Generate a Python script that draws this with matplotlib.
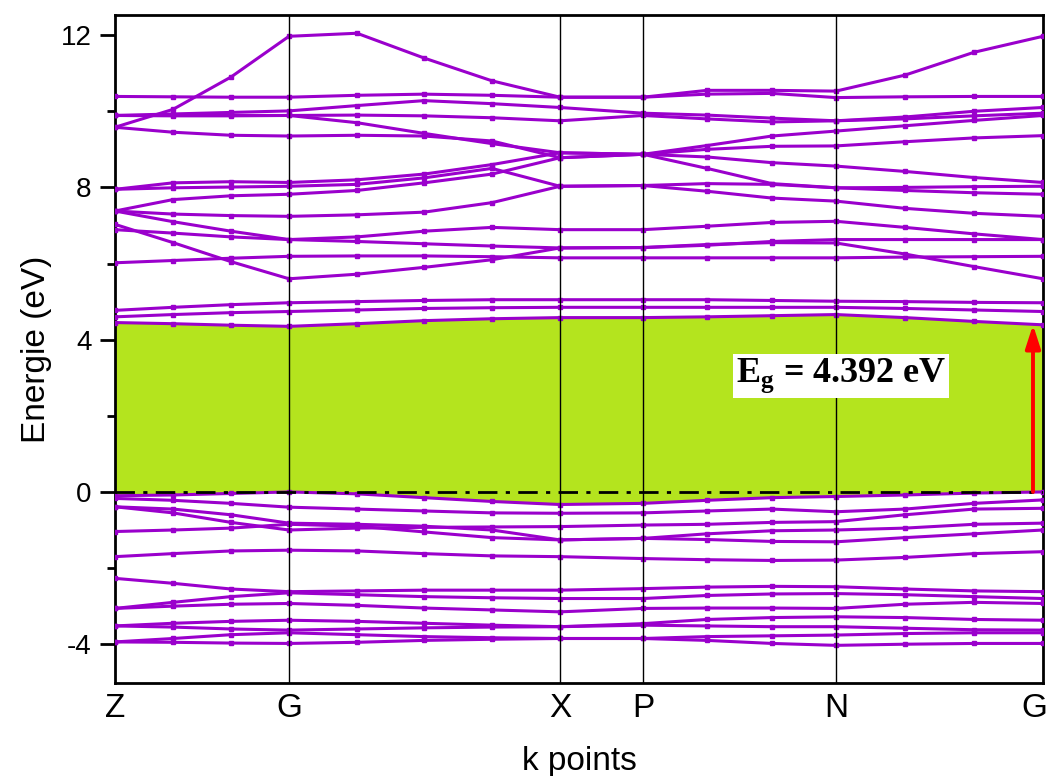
import matplotlib
matplotlib.use("Agg")
import matplotlib.pyplot as plt
import matplotlib.transforms as mtransforms
import numpy as np

# Path through the Brillouin zone (cumulative distance along the path)
k_labels = ["Z", "G", "X", "P", "N", "G"]
k_nodes = [0, 174, 445, 528, 721, 928]
k_samples = [0, 58, 116, 174, 242, 309, 377, 445, 528, 592, 657, 721, 790, 859, 928]

# Conduction bands (eV)
cb_01 = [4.45, 4.42, 4.38, 4.35, 4.42, 4.50, 4.55, 4.58, 4.58, 4.60, 4.63, 4.66, 4.58, 4.48, 4.39]
cb_02 = [4.60, 4.66, 4.71, 4.74, 4.78, 4.82, 4.84, 4.85, 4.85, 4.85, 4.85, 4.85, 4.82, 4.78, 4.74]
cb_03 = [4.77, 4.85, 4.92, 4.97, 5.00, 5.03, 5.05, 5.05, 5.05, 5.05, 5.03, 5.01, 5.00, 4.98, 4.97]
cb_04 = [7.03, 6.55, 6.05, 5.60, 5.72, 5.90, 6.10, 6.41, 6.42, 6.50, 6.55, 6.54, 6.25, 5.92, 5.60]
cb_05 = [6.02, 6.08, 6.14, 6.19, 6.20, 6.20, 6.18, 6.15, 6.15, 6.15, 6.15, 6.15, 6.17, 6.18, 6.19]
cb_06 = [7.38, 7.10, 6.85, 6.63, 6.70, 6.85, 6.95, 6.89, 6.89, 6.98, 7.08, 7.11, 6.95, 6.78, 6.63]
cb_07 = [6.89, 6.80, 6.70, 6.63, 6.58, 6.52, 6.46, 6.41, 6.42, 6.48, 6.58, 6.63, 6.63, 6.63, 6.63]
cb_08 = [7.38, 7.30, 7.26, 7.24, 7.28, 7.35, 7.60, 8.03, 8.05, 7.90, 7.72, 7.64, 7.45, 7.32, 7.24]
cb_09 = [7.38, 7.68, 7.78, 7.82, 7.92, 8.12, 8.35, 8.78, 8.87, 8.50, 8.10, 7.99, 7.92, 7.86, 7.82]
cb_10 = [7.95, 7.99, 8.01, 8.03, 8.08, 8.25, 8.50, 8.03, 8.05, 8.10, 8.08, 7.99, 8.00, 8.02, 8.03]
cb_11 = [7.95, 8.12, 8.15, 8.13, 8.20, 8.35, 8.60, 8.91, 8.87, 8.80, 8.65, 8.56, 8.42, 8.26, 8.13]
cb_12 = [9.58, 9.45, 9.37, 9.35, 9.37, 9.35, 9.22, 8.78, 8.87, 9.00, 9.08, 9.09, 9.20, 9.30, 9.36]
cb_13 = [9.89, 9.88, 9.88, 9.89, 9.70, 9.42, 9.15, 8.91, 8.87, 9.10, 9.35, 9.48, 9.62, 9.76, 9.89]
cb_14 = [9.89, 9.89, 9.89, 9.89, 9.90, 9.88, 9.83, 9.75, 9.89, 9.80, 9.72, 9.75, 9.80, 9.88, 9.95]
cb_15 = [9.89, 9.93, 9.97, 10.01, 10.15, 10.28, 10.20, 10.10, 9.95, 9.90, 9.82, 9.75, 9.85, 10.00, 10.10]
cb_16 = [10.39, 10.38, 10.37, 10.37, 10.42, 10.45, 10.42, 10.37, 10.37, 10.45, 10.47, 10.36, 10.38, 10.39, 10.39]
cb_17 = [9.58, 10.05, 10.90, 11.97, 12.05, 11.40, 10.80, 10.37, 10.37, 10.55, 10.55, 10.53, 10.95, 11.55, 11.97]

# Valence bands (eV)
vb_01 = [-0.10, -0.08, -0.04, 0.00, -0.05, -0.15, -0.25, -0.33, -0.30, -0.22, -0.15, -0.12, -0.08, -0.03, 0.00]
vb_02 = [-0.17, -0.22, -0.30, -0.40, -0.45, -0.50, -0.55, -0.56, -0.55, -0.50, -0.45, -0.52, -0.45, -0.30, -0.21]
vb_03 = [-0.39, -0.55, -0.80, -1.00, -0.95, -0.93, -0.92, -0.91, -0.87, -0.85, -0.80, -0.78, -0.60, -0.45, -0.43]
vb_04 = [-0.39, -0.45, -0.60, -0.82, -0.85, -0.90, -1.00, -1.26, -1.22, -1.10, -1.02, -1.00, -0.95, -0.85, -0.82]
vb_05 = [-1.04, -1.00, -0.95, -0.85, -0.90, -1.05, -1.20, -1.26, -1.22, -1.25, -1.30, -1.31, -1.20, -1.10, -1.00]
vb_06 = [-1.70, -1.62, -1.55, -1.53, -1.55, -1.62, -1.68, -1.70, -1.75, -1.78, -1.80, -1.79, -1.72, -1.62, -1.57]
vb_07 = [-2.27, -2.40, -2.55, -2.62, -2.60, -2.58, -2.58, -2.58, -2.54, -2.50, -2.48, -2.49, -2.55, -2.60, -2.62]
vb_08 = [-3.06, -2.90, -2.75, -2.65, -2.70, -2.75, -2.78, -2.80, -2.80, -2.72, -2.68, -2.67, -2.70, -2.75, -2.80]
vb_09 = [-3.06, -3.00, -2.95, -2.93, -2.98, -3.05, -3.10, -3.15, -3.06, -3.05, -3.05, -3.06, -2.95, -2.90, -2.93]
vb_10 = [-3.52, -3.45, -3.40, -3.37, -3.40, -3.45, -3.50, -3.54, -3.46, -3.35, -3.30, -3.28, -3.30, -3.35, -3.37]
vb_11 = [-3.52, -3.55, -3.60, -3.63, -3.60, -3.57, -3.55, -3.54, -3.50, -3.52, -3.54, -3.54, -3.58, -3.62, -3.63]
vb_12 = [-3.94, -3.85, -3.75, -3.70, -3.75, -3.80, -3.83, -3.85, -3.85, -3.80, -3.78, -3.76, -3.72, -3.70, -3.70]
vb_13 = [-3.94, -3.95, -3.97, -3.98, -3.95, -3.90, -3.87, -3.85, -3.85, -3.90, -3.98, -4.03, -4.00, -3.98, -3.98]

conduction = [cb_01, cb_02, cb_03, cb_04, cb_05, cb_06, cb_07, cb_08, cb_09,
              cb_10, cb_11, cb_12, cb_13, cb_14, cb_15, cb_16, cb_17]
valence = [vb_01, vb_02, vb_03, vb_04, vb_05, vb_06, vb_07, vb_08, vb_09,
           vb_10, vb_11, vb_12, vb_13]

band_gap = 4.392
gap_k = 918

y_ticks = [-4, 0, 4, 8, 12]
y_minor = [-2, 2, 6, 10]

BAND = "#9a00cc"
GAP = "#b4e41e"

plt.rcParams["font.family"] = ["Liberation Sans", "DejaVu Sans"]
plt.rcParams["axes.unicode_minus"] = False
plt.rcParams["mathtext.fontset"] = "custom"
plt.rcParams["mathtext.rm"] = "Liberation Serif:bold"
plt.rcParams["mathtext.bf"] = "Liberation Serif:bold"

fig = plt.figure(figsize=(10.53, 7.76), dpi=100)
ax = fig.add_axes([0.1092, 0.1198, 0.8813, 0.8609])

k = np.array(k_samples, dtype=float)

# gap region between the valence band top and conduction band bottom
ax.fill_between(k, vb_01, cb_01, color=GAP, linewidth=0, zorder=1)

for band in conduction + valence:
    ax.plot(k, band, color=BAND, lw=2.2, marker="s", ms=3.0,
            mec=BAND, mfc=BAND, zorder=3)

for kn in k_nodes[1:-1]:
    ax.axvline(kn, color="black", lw=1.0, zorder=4)

ax.plot([k_nodes[0], k_nodes[-1]], [0, 0], color="black", lw=2.0,
        linestyle=(0, (7, 3, 1.5, 3)), zorder=5)

ax.annotate("", xy=(gap_k, band_gap), xytext=(gap_k, 0),
            arrowprops=dict(arrowstyle="-|>,head_length=1.4,head_width=0.45",
                            color="red", lw=2.8, shrinkA=0, shrinkB=0),
            zorder=6)

ax.text(726, 3.05, r"E$_\mathbf{g}$ = 4.392 eV", family="Liberation Serif",
        fontweight="bold", fontsize=26, ha="center", va="center",
        bbox=dict(facecolor="white", edgecolor="none", pad=2), zorder=7)

ax.set_xlim(k_nodes[0], k_nodes[-1])
ax.set_ylim(-5.02, 12.53)
ax.set_xticks(k_nodes)
ax.set_xticklabels(k_labels, fontsize=24)
ax.tick_params(axis="x", length=0, pad=7)
# nudge the last path label inward so it stays inside the canvas
last = ax.get_xticklabels()[-1]
last.set_transform(last.get_transform() +
                   mtransforms.ScaledTranslation(-6 / 72, 0, fig.dpi_scale_trans))
ax.set_yticks(y_ticks)
ax.set_yticks(y_minor, minor=True)
ax.tick_params(axis="y", which="major", length=11, width=2, labelsize=20, pad=6)
ax.tick_params(axis="y", which="minor", length=6, width=2)
for s in ax.spines.values():
    s.set_linewidth(2)
ax.set_ylabel("Energie (eV)", fontsize=24, labelpad=6)
ax.set_xlabel("k points", fontsize=24, labelpad=16)

fig.savefig("out.png", dpi=100)
